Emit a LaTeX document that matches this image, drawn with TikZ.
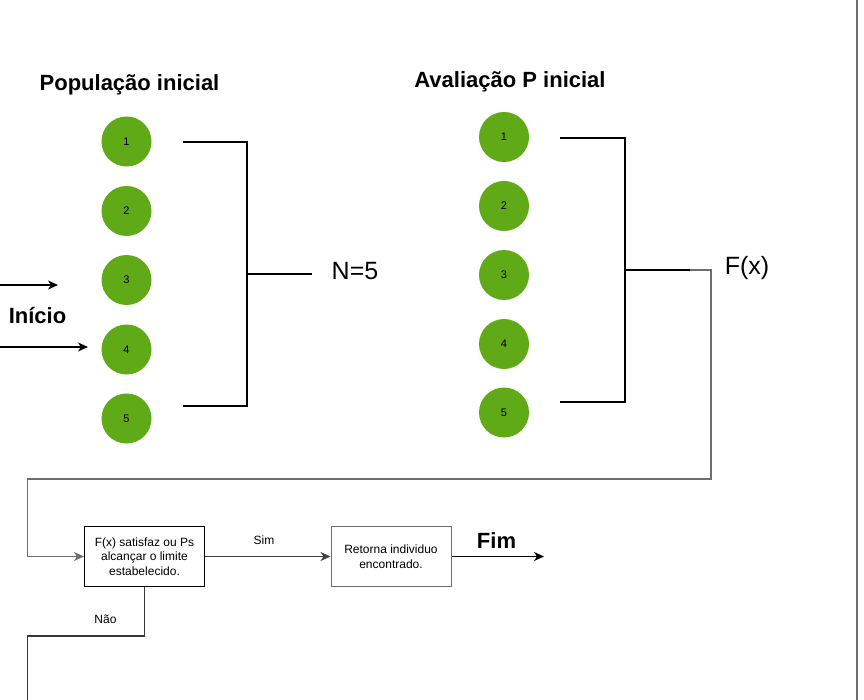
\documentclass[tikz,border=0pt]{standalone}
\usepackage{fontspec}
\setmainfont{Liberation Sans}
\usetikzlibrary{positioning,arrows.meta}

\definecolor{verde}{HTML}{60A917}
\definecolor{cinza}{HTML}{6E6E6E}

\tikzset{
  indiv/.style={circle,fill=verde,minimum size=50pt,inner sep=0pt,font=\fontsize{11}{13}\selectfont},
  titulo/.style={font=\fontsize{22}{26}\selectfont\bfseries},
  grande/.style={font=\fontsize{25}{30}\selectfont},
  caixa/.style={draw,line width=1pt,minimum width=120pt,minimum height=60pt,inner sep=2pt,align=center,font=\fontsize{12}{14.5}\selectfont},
  rotulo/.style={font=\fontsize{12}{14}\selectfont},
  chave/.style={line width=2pt},
  seta/.style={-{Stealth[length=10pt,width=9pt,inset=3pt]},line width=1.4pt},
}

\begin{document}
\begin{tikzpicture}[x=1pt,y=-1pt]
    \useasboundingbox (0,0) rectangle (864,700);
    \fill[white] (0,0) rectangle (864,700);

    % borda direita da janela
    \draw[cinza,line width=2pt] (857,0) -- (857,700);

    % Populacao inicial
    \node[titulo] (tpop) at (129.5,85) {População inicial};
    \node[indiv] (p1) at (126.5,141.5) {1};
    \node[indiv] (p2) at (126.5,211) {2};
    \node[indiv] (p3) at (126.5,280) {3};
    \node[indiv] (p4) at (126.5,349.5) {4};
    \node[indiv] (p5) at (126.5,418.5) {5};

    % chave N=5
    \coordinate (pa) at (183,142);
    \coordinate (pb) at (183,406);
    \coordinate (pm) at (247,274);
    \coordinate (pn) at (312,274);
    \node[grande] (nfive) at (355,271) {N=5};
    \draw[chave] (pa) -| (pm) |- (pb);
    \draw[chave] (pm) -- (pn);

    % Avaliacao P inicial
    \node[titulo] (taval) at (510,82) {Avaliação P inicial};
    \node[indiv] (a1) at (504,137) {1};
    \node[indiv] (a2) at (504,206) {2};
    \node[indiv] (a3) at (504,275) {3};
    \node[indiv] (a4) at (504,344) {4};
    \node[indiv] (a5) at (504,412.5) {5};

    % chave F(x)
    \coordinate (aa) at (560,138);
    \coordinate (ab) at (560,402);
    \coordinate (am) at (625,270);
    \coordinate (an) at (690,270);
    \node[grande] (fx) at (747,268) {F(x)};
    \draw[chave] (aa) -| (am) |- (ab);
    \draw[chave] (am) -- (an);

    % Inicio
    \node[titulo] (inicio) at (37.5,316) {Início};
    \coordinate (i1) at (0,285);
    \coordinate (i1f) at (58,285);
    \coordinate (i2) at (0,347);
    \coordinate (i2f) at (88,347);
    \draw[seta] (i1) -- (i1f);
    \draw[seta] (i2) -- (i2f);

    % teste de parada
    \node[caixa] (teste) at (144.5,556.5) {F(x) satisfaz ou Ps\\alcançar o limite\\estabelecido.};
    \node[caixa,draw=cinza] (retorna) at (391,556.5) {Retorna individuo\\encontrado.};
    \node[rotulo] (sim) at (264,540) {Sim};
    \node[rotulo] (nao) at (105.5,619.5) {Não};
    \node[titulo] (fim) at (496.5,540.5) {Fim};
    \coordinate (saida) at (544,556.5);

    % retorno de F(x) para o teste
    \draw[cinza,seta] (an) -- (711,270) -- (711,479) -- (27.5,479) |- (teste.west);

    \draw[seta,draw=cinza!60!black] (teste.east) -- (retorna.west);
    \draw[seta] (retorna.east) -- (saida);

    % Nao
    \draw[line width=1.4pt,cinza!50!black] (teste.south) |- (27.5,636) -- (27.5,702);
\end{tikzpicture}
\end{document}
